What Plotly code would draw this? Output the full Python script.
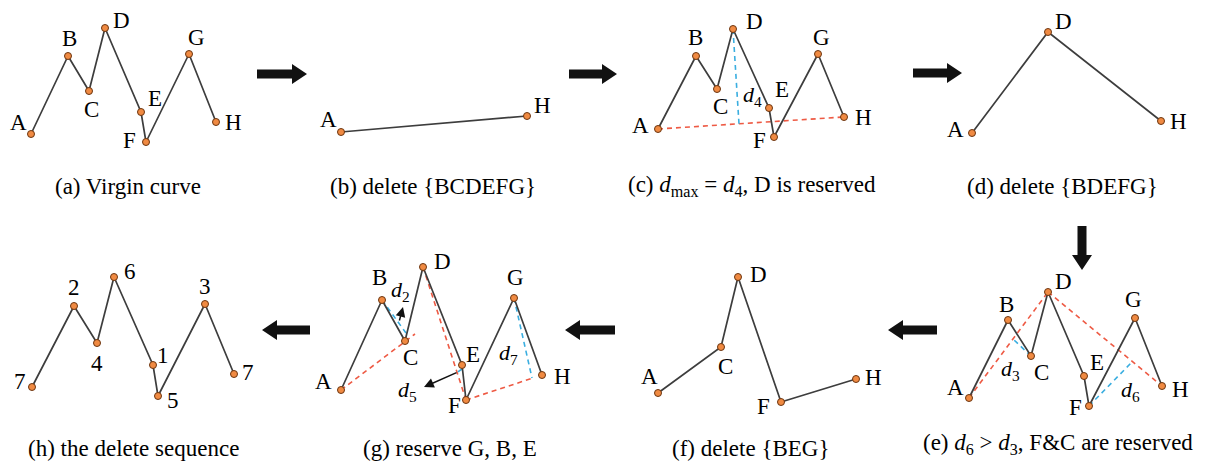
import plotly.graph_objects as go

W, H = 1211, 465
FONT = "Liberation Serif"
LINE_C = "#3d3d3d"
RED = "#ee5a44"
BLUE = "#3aaee0"
MK_FILL = "#f08a42"
MK_EDGE = "#6b3510"

# ---- panel point data (names, x, y) ----
a_names = ["A", "B", "C", "D", "E", "F", "G", "H"]
a_x = [31, 68, 89, 105, 141, 146, 189, 216]
a_y = [134, 56, 91, 28, 112, 142, 54, 122]
a_lx = [18, 69, 91, 121, 155, 129, 196, 233]
a_ly = [122, 38, 109, 20, 98, 140, 37, 122]

b_names = ["A", "H"]
b_x = [341, 527]
b_y = [132, 116]
b_lx = [328, 542]
b_ly = [119, 105]

c_names = ["A", "B", "C", "D", "E", "F", "G", "H"]
c_x = [658, 696, 717, 733, 769, 774, 818, 844]
c_y = [129, 56, 89, 29, 108, 137, 54, 117]
c_lx = [640, 695, 720, 754, 782, 759, 821, 863]
c_ly = [125, 37, 106, 21, 89, 140, 37, 117]

d_names = ["A", "D", "H"]
d_x = [972, 1048, 1161]
d_y = [133, 32, 121]
d_lx = [955, 1063, 1178]
d_ly = [129, 21, 121]

e_names = ["A", "B", "C", "D", "E", "F", "G", "H"]
e_x = [969, 1008, 1031, 1048, 1084, 1089, 1135, 1162]
e_y = [398, 320, 356, 292, 376, 406, 318, 386]
e_lx = [955, 1006, 1041, 1063, 1097, 1075, 1133, 1180]
e_ly = [387, 304, 372, 281, 362, 407, 299, 389]

f_names = ["A", "C", "D", "F", "H"]
f_x = [658, 721, 738, 781, 856]
f_y = [393, 347, 277, 402, 379]
f_lx = [649, 725, 758, 763, 873]
f_ly = [376, 366, 274, 406, 377]

g_names = ["A", "B", "C", "D", "E", "F", "G", "H"]
g_x = [341, 382, 405, 423, 462, 466, 514, 542]
g_y = [390, 300, 341, 267, 365, 400, 298, 375]
g_lx = [323, 379, 410, 442, 473, 454, 515, 562]
g_ly = [381, 277, 357, 261, 354, 405, 277, 376]

h_names = ["7", "2", "4", "6", "1", "5", "3", "7"]
h_x = [32, 74, 97, 114, 153, 158, 205, 234]
h_y = [387, 306, 343, 277, 365, 396, 304, 374]
h_lx = [20, 74, 97, 130, 163, 173, 205, 248]
h_ly = [381, 287, 363, 271, 355, 400, 286, 372]

# dashed helper segments: (x0, y0, x1, y1)
c_red = [(658, 129, 844, 117)]
c_blue = [(733, 29, 739, 124)]
e_red = [(969, 398, 1048, 292), (1048, 292, 1162, 386)]
e_blue = [(1031, 356, 1013, 339), (1089, 406, 1132, 362)]
g_red = [(341, 390, 415, 334), (423, 267, 466, 400), (466, 400, 533, 378)]
g_blue = [(382, 300, 406, 333), (514, 298, 532, 378), (462, 369, 455, 374)]

# captions: (x, y, text)
captions = [
    (128, 186, "(a) Virgin curve"),
    (433, 186, "(b) delete {BCDEFG}"),
    (752, 186, "(c) <i>d</i><sub>max</sub> = <i>d</i><sub>4</sub>, D is reserved"),
    (1062, 186, "(d) delete {BDEFG}"),
    (1058, 444, "(e) <i>d</i><sub>6</sub> > <i>d</i><sub>3</sub>, F&C are reserved"),
    (750, 448, "(f) delete {BEG}"),
    (450, 448, "(g) reserve G, B, E"),
    (133, 448, "(h) the delete sequence"),
]

# distance labels: (x, y, text)
dist_labels = [
    (752, 96, "<i>d</i><sub>4</sub>"),
    (1010, 370, "<i>d</i><sub>3</sub>"),
    (1130, 391, "<i>d</i><sub>6</sub>"),
    (400, 291, "<i>d</i><sub>2</sub>"),
    (407, 391, "<i>d</i><sub>5</sub>"),
    (508, 354, "<i>d</i><sub>7</sub>"),
]

# block arrows: (tail_x, tail_y, tip_x, tip_y)
block_arrows = [
    (257, 74, 307, 74),
    (569, 74, 617, 74),
    (913, 73, 962, 73),
    (1082, 226, 1082, 270),
    (937, 330, 888, 330),
    (615, 330, 565, 330),
    (310, 330, 262, 330),
]

# small pointer arrows in (g): (tail_x, tail_y, tip_x, tip_y)
small_arrows = [
    (399, 322, 403, 307),
    (458, 372, 424, 387),
]

fig = go.Figure()

def add_dashed(segs, color):
    xs, ys = [], []
    for x0, y0, x1, y1 in segs:
        xs += [x0, x1, None]
        ys += [y0, y1, None]
    fig.add_trace(go.Scatter(x=xs, y=ys, mode="lines",
                             line=dict(color=color, width=1.6, dash="5px,4px"),
                             hoverinfo="skip", showlegend=False))

for segs, col in [(c_red, RED), (c_blue, BLUE), (e_red, RED), (e_blue, BLUE),
                  (g_red, RED), (g_blue, BLUE)]:
    add_dashed(segs, col)

panels = [
    (a_names, a_x, a_y, a_lx, a_ly),
    (b_names, b_x, b_y, b_lx, b_ly),
    (c_names, c_x, c_y, c_lx, c_ly),
    (d_names, d_x, d_y, d_lx, d_ly),
    (e_names, e_x, e_y, e_lx, e_ly),
    (f_names, f_x, f_y, f_lx, f_ly),
    (g_names, g_x, g_y, g_lx, g_ly),
    (h_names, h_x, h_y, h_lx, h_ly),
]

for names, xs, ys, lxs, lys in panels:
    fig.add_trace(go.Scatter(
        x=xs, y=ys, mode="lines+markers",
        line=dict(color=LINE_C, width=1.7),
        marker=dict(size=7, color=MK_FILL, line=dict(color=MK_EDGE, width=1)),
        hoverinfo="skip", showlegend=False))
    for n, lx, ly in zip(names, lxs, lys):
        fig.add_annotation(x=lx, y=ly, text=n, showarrow=False,
                           font=dict(family=FONT, size=23, color="black"))

for x, y, t in captions:
    fig.add_annotation(x=x, y=y, text=t, showarrow=False,
                       font=dict(family=FONT, size=23, color="black"))

for x, y, t in dist_labels:
    fig.add_annotation(x=x, y=y, text=t, showarrow=False,
                       font=dict(family=FONT, size=22, color="black"))

# block arrows as filled polygons
BODY = 4.5
HEAD = 10
HEADLEN = 15
for tx, ty, hx, hy in block_arrows:
    dx, dy = hx - tx, hy - ty
    L = (dx ** 2 + dy ** 2) ** 0.5
    ux, uy = dx / L, dy / L
    px, py = -uy, ux
    bx, by = hx - ux * HEADLEN, hy - uy * HEADLEN
    pts = [
        (tx + px * BODY, ty + py * BODY),
        (bx + px * BODY, by + py * BODY),
        (bx + px * HEAD, by + py * HEAD),
        (hx, hy),
        (bx - px * HEAD, by - py * HEAD),
        (bx - px * BODY, by - py * BODY),
        (tx - px * BODY, ty - py * BODY),
    ]
    path = "M " + " L ".join(f"{x:.1f},{y:.1f}" for x, y in pts) + " Z"
    fig.add_shape(type="path", path=path, xref="x", yref="y",
                  fillcolor="#111111", line=dict(color="#111111", width=0))

for tx, ty, hx, hy in small_arrows:
    fig.add_annotation(x=hx, y=hy, ax=tx, ay=ty, xref="x", yref="y",
                       axref="x", ayref="y", text="", showarrow=True,
                       arrowhead=2, arrowsize=1.3, arrowwidth=1.5,
                       arrowcolor="#111111")

fig.update_layout(
    width=W, height=H,
    margin=dict(l=0, r=0, t=0, b=0),
    paper_bgcolor="white", plot_bgcolor="white",
    xaxis=dict(range=[0, W], visible=False, fixedrange=True),
    yaxis=dict(range=[H, 0], visible=False, fixedrange=True),
)

fig.write_html("out.html", config={"displayModeBar": False},
               post_script="document.body.style.margin='0px';document.body.style.overflow='hidden';")
